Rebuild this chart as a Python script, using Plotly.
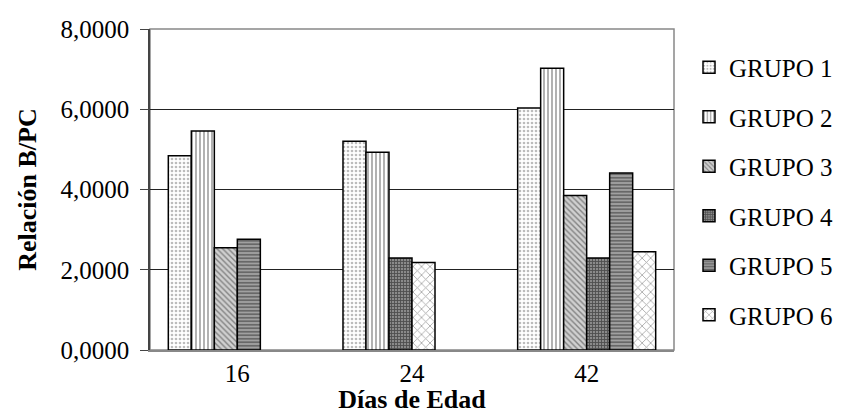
import plotly.graph_objects as go

categories = ["16", "24", "42"]
groups = ["GRUPO 1", "GRUPO 2", "GRUPO 3", "GRUPO 4", "GRUPO 5", "GRUPO 6"]
g1 = [4.84, 5.20, 6.03]
g2 = [5.46, 4.93, 7.02]
g3 = [2.55, None, 3.85]
g4 = [None, 2.29, 2.29]
g5 = [2.76, None, 4.41]
g6 = [None, 2.18, 2.45]
series = [g1, g2, g3, g4, g5, g6]
y_ticks = [0, 2, 4, 6, 8]

patterns = [
    dict(shape=".", fgcolor="#7a7a7a", bgcolor="white", size=4, solidity=0.35),
    dict(shape="|", fgcolor="#222222", bgcolor="white", size=4, solidity=0.35),
    dict(shape="\\", fgcolor="#333333", bgcolor="#d0d0d0", size=4, solidity=0.35),
    dict(shape="+", fgcolor="#111111", bgcolor="#8a8a8a", size=3, solidity=0.5),
    dict(shape="-", fgcolor="#222222", bgcolor="#a0a0a0", size=3.5, solidity=0.45),
    dict(shape="x", fgcolor="#444444", bgcolor="white", size=6, solidity=0.25),
]

w = 0.1317
start = -3 * w

# slot of each bar = order among present values in its category
slots = {}
for ci in range(len(categories)):
    k = 0
    for si, s in enumerate(series):
        if s[ci] is not None:
            slots[(si, ci)] = k
            k += 1

fig = go.Figure()
for si, (name, s) in enumerate(zip(groups, series)):
    xs, ys, offs = [], [], []
    for ci, v in enumerate(s):
        if v is not None:
            xs.append(categories[ci])
            ys.append(v)
            offs.append(start + slots[(si, ci)] * w)
    fig.add_trace(go.Bar(
        x=xs, y=ys, name=name, width=w, offset=offs,
        legendgroup=name,
        marker=dict(color="white", pattern=patterns[si],
                    line=dict(color="black", width=1.5)),
    ))

font = "Liberation Serif, Times New Roman, serif"
fig.update_layout(
    width=836, height=406,
    margin=dict(l=142, r=170, t=21, b=64),
    barmode="overlay",
    separators=",.",
    plot_bgcolor="white", paper_bgcolor="white",
    font=dict(family=font, size=25, color="black"),
    showlegend=True,
    legend=dict(xref="container", yref="container", x=0.8146, y=0.91,
                xanchor="left", yanchor="top", maxheight=380,
                tracegroupgap=14, font=dict(size=25, family=font),
                bgcolor="rgba(0,0,0,0)"),
    xaxis=dict(type="category", range=[-0.5, 2.5], showgrid=False, automargin=False,
               showline=True, linecolor="#888888", linewidth=1.5,
               ticks="", tickfont=dict(size=25),
               title=dict(text="<b>Días de Edad</b>", font=dict(size=26), standoff=0)),
    yaxis=dict(range=[0, 8], tickvals=y_ticks, tickformat=".4f", automargin=False,
               showgrid=True, gridcolor="#222222", gridwidth=1,
               showline=True, linecolor="#444444", linewidth=1.5,
               ticks="outside", ticklen=8, tickcolor="#444444",
               ticklabelstandoff=6, tickfont=dict(size=25), zeroline=False,
               title=dict(text="<b>Relación B/PC</b>", font=dict(size=26), standoff=16)),
    shapes=[dict(type="rect", xref="paper", yref="paper", x0=0, x1=1, y0=0, y1=1,
                 line=dict(color="#888888", width=1.5), layer="below")],
)
fig.write_html("out.html")
